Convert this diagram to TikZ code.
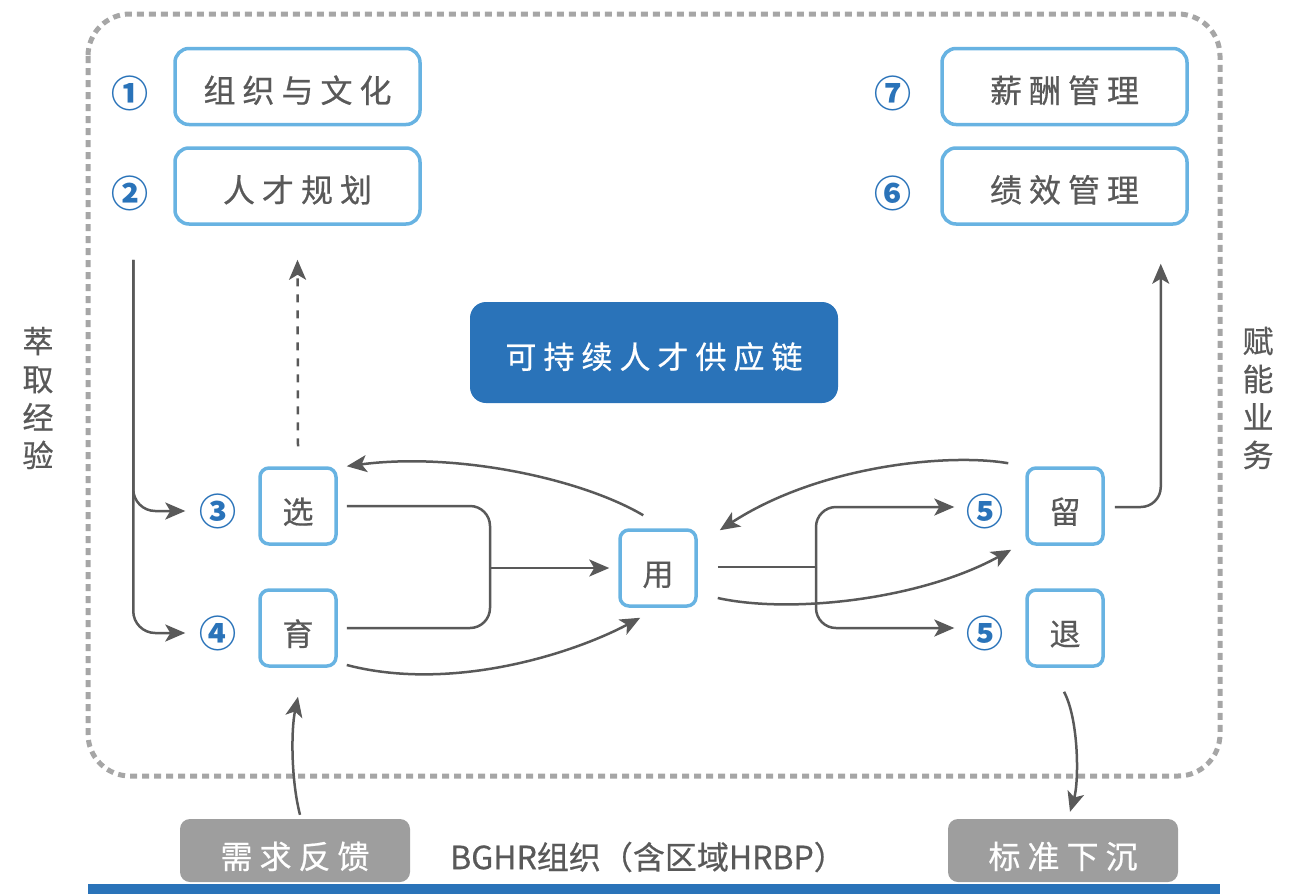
\documentclass[tikz,border=0pt]{standalone}
\usepackage{fontspec}
\setmainfont{Noto Sans CJK SC}
\newfontfamily\medfont{Noto Sans CJK SC}[FakeBold=0.6]
\usetikzlibrary{arrows.meta,calc}
\definecolor{boxblue}{HTML}{68B3E2}
\definecolor{deepblue}{HTML}{2A73B9}
\definecolor{ink}{HTML}{595959}
\definecolor{dotgray}{HTML}{A6A6A6}
\definecolor{tagray}{HTML}{9E9E9E}
% spacing between spread-out characters
\newcommand\ls{\hspace{7pt}}
\newcommand\lsn{\hspace{7pt}}

\begin{document}
\begin{tikzpicture}[x=1pt,y=-1pt,
  bigbox/.style={draw=boxblue,line width=3.5pt,rounded corners=14pt,
    minimum width=245pt,minimum height=76pt,text=ink,inner sep=0pt,
    text height=32pt,text depth=0pt,
    font=\medfont\fontsize{32}{34}\selectfont},
  smallbox/.style={draw=boxblue,line width=3.5pt,rounded corners=9pt,
    minimum width=76pt,minimum height=76pt,text=ink,inner sep=0pt,
    text height=35pt,text depth=0pt,
    font=\medfont\fontsize{31}{33}\selectfont},
  num/.style={text=deepblue,inner sep=0pt,font=\fontsize{37}{38}\selectfont\bfseries},
  graybox/.style={fill=tagray,rounded corners=10pt,minimum width=230pt,
    minimum height=63pt,text=white,inner sep=0pt,
    text height=36pt,text depth=0pt,
    font=\medfont\fontsize{32}{34}\selectfont},
  sidetext/.style={text=ink,align=center,inner sep=0pt,
    font=\medfont\fontsize{31}{38}\selectfont},
  wire/.style={draw=ink,line width=2.5pt},
  flow/.style={wire,-{Stealth[length=20pt,width=17pt,inset=5pt]}},
]
\useasboundingbox (0,0) rectangle (1313,894);

% dotted frame of the HR organisation
\draw[dotgray,line width=5pt,dash pattern=on 7pt off 5pt,rounded corners=42pt]
  (88,14) rectangle (1220,776);

% bottom bar
\fill[deepblue] (88,884) rectangle (1220,894);

% top boxes
\node[bigbox] (org)  at (297.5,86.5) {组\ls 织\ls 与\ls 文\ls 化};
\node[bigbox] (plan) at (297.5,186)  {人\ls 才\ls 规\ls 划};
\node[bigbox] (pay)  at (1064.5,86.5){薪\ls 酬\ls 管\ls 理};
\node[bigbox] (perf) at (1064.5,186) {绩\ls 效\ls 管\ls 理};

\node[num] (n1) at (130,93)  {①};
\node[num] (n2) at (130,193) {②};
\node[num] (n7) at (893,93)  {⑦};
\node[num] (n6) at (893,193) {⑥};

% central label
\node[fill=deepblue,rounded corners=16pt,minimum width=368pt,minimum height=101pt,
  text=white,inner sep=0pt,text height=32pt,text depth=0pt,
  font=\medfont\fontsize{31}{33}\selectfont] (chain) at (654,352.5)
  {可\lsn 持\lsn 续\lsn 人\lsn 才\lsn 供\lsn 应\lsn 链};

% stage boxes
\node[smallbox] (xuan) at (298,506)  {选};
\node[smallbox] (yu)   at (298,628)  {育};
\node[smallbox] (yong) at (658,568)  {用};
\node[smallbox] (liu)  at (1065,506) {留};
\node[smallbox] (tui)  at (1065,628) {退};

\node[num] (n3)  at (218,511) {③};
\node[num] (n4)  at (218,633) {④};
\node[num] (n5a) at (985,511) {⑤};
\node[num] (n5b) at (985,633) {⑤};

% bottom boxes and caption
\node[graybox] (feed) at (295,850.5)  {需\ls 求\ls 反\ls 馈};
\node[graybox] (sink) at (1063,850.5) {标\ls 准\ls 下\ls 沉};
\node[text=ink,inner sep=0pt,font=\medfont\fontsize{32}{34}\selectfont] (bghr) at (648,857)
  {BGHR组织（含区域HRBP）};

% side captions
\node[sidetext] (left)  at (38,398)   {萃\\取\\经\\验};
\node[sidetext] (right) at (1258,398) {赋\\能\\业\\务};

% experience trunk feeding stages 3 and 4
\coordinate (trunk) at ($(plan.south west)+(-40,34)$);
\draw[flow,rounded corners=22pt] (trunk) |- ($(n3.west)+(-14,0)$);
\draw[flow,rounded corners=22pt] (trunk) |- ($(n4.west)+(-14,0)$);

% selection feeds back to planning
\draw[flow,dash pattern=on 8pt off 8pt] ($(xuan.north)+(0,-20)$) -- ($(plan.south)+(0,34)$);

% select/develop merge into use
\coordinate (join) at (490,568);
\draw[wire,rounded corners=20pt] ($(xuan.east)+(9,0)$) -| (join) |- ($(yu.east)+(9,0)$);
\draw[flow] (join) -- ($(yong.west)+(-9,0)$);
\draw[flow] ($(yu.east)+(9,37)$) .. controls (450,692) and (570,655) .. ($(yong.south west)+(22,10)$);
\draw[flow] ($(yong.north west)+(25,-13)$) .. controls (580,478) and (455,452) .. ($(xuan.north east)+(9,0)$);

% use splits into retain and exit
\coordinate (split) at (816,567);
\draw[wire] ($(yong.east)+(20,-1)$) -- (split);
\draw[flow,rounded corners=20pt] (split) |- ($(n5a.west)+(-12,-4)$);
\draw[flow,rounded corners=20pt] (split) |- ($(n5b.west)+(-12,-5)$);
\draw[flow] ($(yong.east)+(20,30)$) .. controls (790,614) and (920,600) .. ($(liu.south west)+(-14,4)$);
\draw[flow] ($(liu.north west)+(-17,-3)$) .. controls (950,453) and (820,465) .. ($(yong.north east)+(22,2)$);

% retain leads up to performance management
\draw[flow,rounded corners=20pt] ($(liu.east)+(10,1)$) -| ($(perf.south east)+(-28,38)$);

% demand feedback and standards
\draw[flow] ($(feed.north)+(5,-4)$) .. controls (291,780) and (291,730) .. ($(yu.south)+(0,29)$);
\draw[flow] ($(tui.south)+(-1,24)$) .. controls (1079,720) and (1079,782) .. ($(sink.north)+(7,-7)$);
\end{tikzpicture}
\end{document}
